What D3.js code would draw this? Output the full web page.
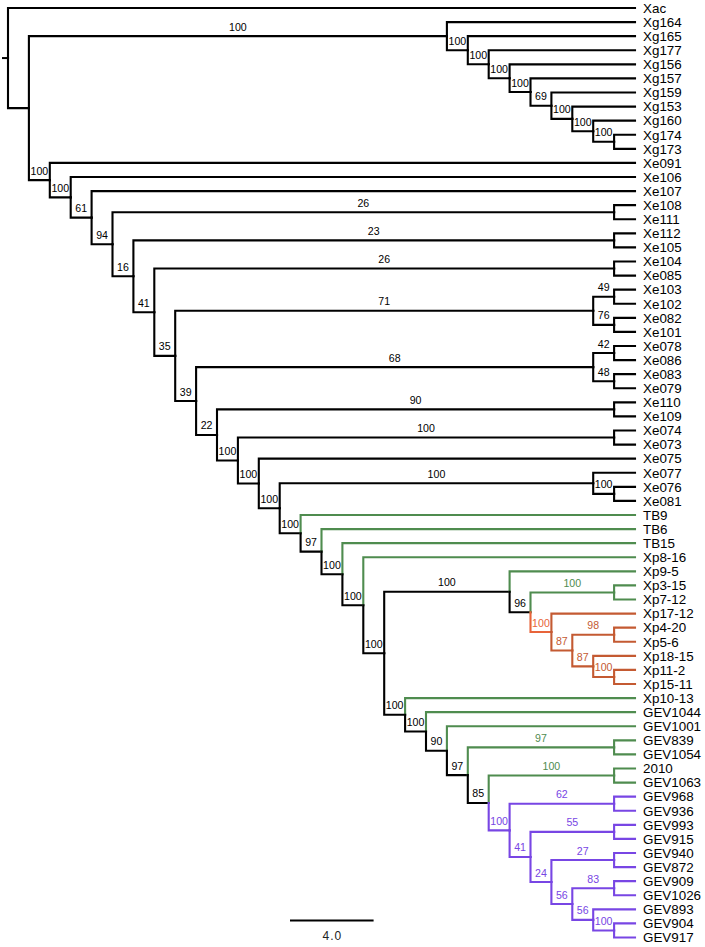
<!DOCTYPE html>
<html>
<head>
<meta charset="utf-8">
<script src="https://cdn.jsdelivr.net/npm/d3@7"></script>
<style>
  html, body { margin: 0; padding: 0; background: #fff; }
  svg { display: block; font-family: "Liberation Sans", Arial, Helvetica, sans-serif; }
</style>
</head>
<body>
<svg id="chart" width="705" height="947"></svg>
<script>
// ---- DATA (Newick pieces: support values as internal labels, branch lengths after ':') ----
const xgClade  = "(Xg164:9,(Xg165:8,(Xg177:7,(Xg156:6,(Xg157:5,(Xg159:4,(Xg153:3,(Xg160:2,(Xg174:1,Xg173:1)100:1)100:1)100:1)69:1)100:1)100:1)100:1)100:1)100:20";
const xpClade  = "(Xp9-5:6,((Xp3-15:1,Xp7-12:1)100:4,(Xp17-12:4,((Xp4-20:1,Xp5-6:1)98:2,(Xp18-15:2,(Xp11-2:1,Xp15-11:1)100:1)87:1)87:1)100:1)96:1)100:6";
const gevClade = "(Xp10-13:11,(GEV1044:10,(GEV1001:9,((GEV839:1,GEV1054:1)97:7,((2010:1,GEV1063:1)100:6,((GEV968:1,GEV936:1)62:5,((GEV993:1,GEV915:1)55:4,((GEV940:1,GEV872:1)27:3,((GEV909:1,GEV1026:1)83:2,(GEV893:2,(GEV904:1,GEV917:1)100:1)56:1)56:1)24:1)41:1)100:1)85:1)97:1)90:1)100:1)100:1";
const tbPart   = "(TB9:16,(TB6:15,(TB15:14,(Xp8-16:13,(" + xpClade + "," + gevClade + ")100:1)100:1)100:1)97:1)100:1";
const xeClade  = "(Xe091:28,(Xe106:27,(Xe107:26,((Xe108:1,Xe111:1)26:24,((Xe112:1,Xe105:1)23:23,((Xe104:1,Xe085:1)26:22,(((Xe103:1,Xe102:1)49:1,(Xe082:1,Xe101:1)76:1)71:20,(((Xe078:1,Xe086:1)42:1,(Xe083:1,Xe079:1)48:1)68:19,((Xe110:1,Xe109:1)90:19,((Xe074:1,Xe073:1)100:18,(Xe075:18,((Xe077:2,(Xe076:1,Xe081:1)100:1)100:15," + tbPart + ")100:1)100:1)100:1)22:1)39:1)35:1)41:1)16:1)94:1)61:1)100:1)100:1";
const treeNewick = "(Xac:30,(" + xgClade + "," + xeClade + "):1);";

const greenTips  = ["TB9","TB6","TB15","Xp8-16","Xp9-5","Xp3-15","Xp7-12","Xp10-13","GEV1044","GEV1001","GEV839","GEV1054","2010","GEV1063"];
const orangeTips = ["Xp17-12","Xp4-20","Xp5-6","Xp18-15","Xp11-2","Xp15-11"];
const purpleTips = ["GEV968","GEV936","GEV993","GEV915","GEV940","GEV872","GEV909","GEV1026","GEV893","GEV904","GEV917"];
const scaleBarValue = 4.0;
const treeDepth = 30;

// ---- STYLE ----
const COLORS = { black: "#000000", green: "#4f8c4f", orange: "#c45a32", orangeRoot: "#e8643a", purple: "#7846e4" };

// ---- PARSE ----
function parseNewick(s) {
  let i = 0;
  function node() {
    const n = {};
    if (s[i] === "(") {
      n.children = [];
      i++;
      n.children.push(node());
      while (s[i] === ",") { i++; n.children.push(node()); }
      i++; // ')'
    }
    let name = "";
    while (i < s.length && !":,);".includes(s[i])) name += s[i++];
    if (n.children) n.support = name; else n.name = name;
    if (s[i] === ":") {
      i++;
      let l = "";
      while (i < s.length && !",);".includes(s[i])) l += s[i++];
      n.length = +l;
    } else n.length = 0;
    return n;
  }
  return node();
}

const root = d3.hierarchy(parseNewick(treeNewick));
root.eachBefore(d => { d.dist = d.parent ? d.parent.dist + d.data.length : 0; });

const leaves = root.leaves();
const x = d3.scaleLinear().domain([0, treeDepth]).range([8, 635]);
const y = d3.scalePoint().domain(leaves.map(d => d.data.name)).range([8, 937.5]);

root.eachAfter(d => {
  if (d.children) d.yy = (d.children[0].yy + d.children[d.children.length - 1].yy) / 2;
  else d.yy = y(d.data.name);
});

function groupOf(name) {
  if (greenTips.includes(name)) return "green";
  if (orangeTips.includes(name)) return "orange";
  if (purpleTips.includes(name)) return "purple";
  return "black";
}
root.eachAfter(d => {
  if (!d.children) d.grp = groupOf(d.data.name);
  else {
    const g = d.children[0].grp;
    d.grp = d.children.every(c => c.grp === g) ? g : "black";
  }
});
function colorOf(d) {
  if (d.grp === "orange" && d.parent && d.parent.grp !== "orange") return COLORS.orangeRoot;
  return COLORS[d.grp];
}

const svg = d3.select("#chart");

// root stub
svg.append("path")
  .attr("d", `M2,${root.yy}H${x(0)}`)
  .attr("stroke", "#000").attr("stroke-width", 2).attr("fill", "none");

// branches
const links = root.descendants().filter(d => d.parent);
svg.append("g").selectAll("path").data(links).join("path")
  .attr("d", d => `M${x(d.parent.dist)},${d.parent.yy}V${d.yy}H${x(d.dist)}`)
  .attr("fill", "none")
  .attr("stroke", d => colorOf(d))
  .attr("stroke-width", 2.1)
  .attr("stroke-linecap", "square")
  .attr("stroke-linejoin", "miter");

// support labels
const internal = links.filter(d => d.children && d.data.support);
svg.append("g").selectAll("text").data(internal).join("text")
  .attr("x", d => (x(d.parent.dist) + x(d.dist)) / 2)
  .attr("y", d => d.yy - 5.5)
  .attr("text-anchor", "middle")
  .attr("font-size", 10.6)
  .attr("fill", d => colorOf(d))
  .text(d => d.data.support);

// tip labels
svg.append("g").selectAll("text").data(leaves).join("text")
  .attr("x", d => x(d.dist) + 8)
  .attr("y", d => d.yy)
  .attr("dy", "0.36em")
  .attr("font-size", 13.4)
  .attr("fill", "#000")
  .text(d => d.data.name);

// scale bar
const barX0 = 290, barY = 920.5;
const barLen = x(scaleBarValue) - x(0);
svg.append("line")
  .attr("x1", barX0).attr("x2", barX0 + barLen)
  .attr("y1", barY).attr("y2", barY)
  .attr("stroke", "#000").attr("stroke-width", 2);
svg.append("text")
  .attr("x", barX0 + barLen / 2 + 0.5)
  .attr("y", 940)
  .attr("text-anchor", "middle")
  .attr("font-size", 12)
  .attr("letter-spacing", "1px")
  .attr("fill", "#222")
  .text(scaleBarValue.toFixed(1));
</script>
</body>
</html>
